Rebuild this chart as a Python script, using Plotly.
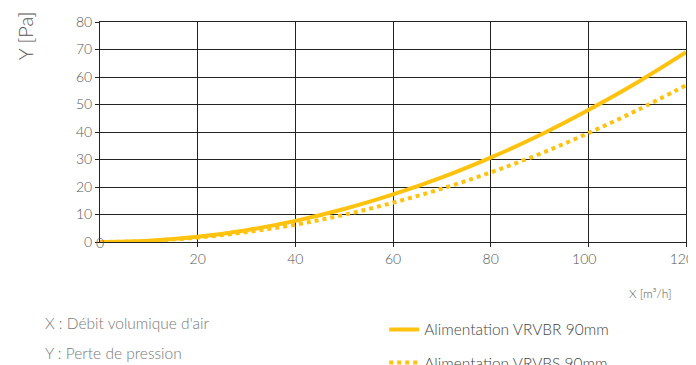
import plotly.graph_objects as go

# flow rate (m3/h) and pressure loss (Pa)
debit = [0, 10, 20, 30, 40, 50, 60, 70, 80, 90, 100, 110, 120]
vrvbr = [0, 0.5, 1.9, 4.3, 7.7, 12.0, 17.3, 23.5, 30.7, 38.8, 48.0, 58.0, 69.0]
vrvbs = [0, 0.4, 1.6, 3.6, 6.3, 9.9, 14.3, 19.4, 25.3, 32.0, 39.6, 47.9, 57.0]

x_ticks = [20, 40, 60, 80, 100, 120]
pad = "<span style='color:rgba(0,0,0,0)'>0</span>"
x_labels = ["20", "40", "60", "80", "100" + pad, "120" + pad]
y_ticks = [0, 10, 20, 30, 40, 50, 60, 70, 80]

jaune = "#FFC20E"
gris = "#555555"
police = "Lato"

fig = go.Figure()

fig.add_trace(go.Scatter(x=debit, y=vrvbr, mode="lines", line_shape="spline",
                         line=dict(color=jaune, width=4), legendgroup="a",
                         name="Alimentation VRVBR 90mm"))
fig.add_trace(go.Scatter(x=debit, y=vrvbs, mode="lines", line_shape="spline",
                         line=dict(color=jaune, width=4, dash="dot"), legendgroup="b",
                         name="Alimentation VRVBS 90mm"))

axe = dict(showgrid=True, gridcolor="#222222", gridwidth=1,
           showline=True, linecolor="#222222", linewidth=1, mirror=True,
           zeroline=False, ticks="outside", ticklen=4, tickcolor="#222222",
           tickfont=dict(family=police, size=14, color=gris, weight=300))

fig.update_layout(
    width=696, height=365,
    margin=dict(l=92, r=18, t=14, b=131, autoexpand=False),
    paper_bgcolor="white", plot_bgcolor="white",
    font=dict(family=police, color=gris),
    xaxis=dict(range=[0, 120], tickvals=x_ticks, ticktext=x_labels, **axe),
    yaxis=dict(range=[0, 80], tickvals=y_ticks, **axe),
    showlegend=True,
    legend=dict(x=0.485, y=-0.322, xanchor="left", yanchor="top",
                itemwidth=30, tracegroupgap=10, traceorder="grouped",
                font=dict(family=police, size=15.5, color="#444444", weight=300),
                bgcolor="rgba(0,0,0,0)"),
    annotations=[
        dict(text="0", x=0, y=0, xref="x", yref="y", showarrow=False,
             xanchor="center", yanchor="middle",
             font=dict(family=police, size=14, color=gris, weight=300)),
        dict(text="Y [Pa]", x=-0.128, y=0.94, xref="paper", yref="paper",
             showarrow=False, textangle=-90, xanchor="center", yanchor="middle",
             font=dict(family=police, size=20, color=gris, weight=300)),
        dict(text="X [m³/h]", x=0.94, y=-0.232, xref="paper", yref="paper",
             showarrow=False, xanchor="center", yanchor="middle",
             font=dict(family=police, size=12, color=gris, weight=300)),
        dict(text="X : Débit volumique d'air", x=-0.098, y=-0.368,
             xref="paper", yref="paper", showarrow=False,
             xanchor="left", yanchor="middle",
             font=dict(family=police, size=15.5, color="#777777", weight=300)),
        dict(text="Y : Perte de pression", x=-0.098, y=-0.505,
             xref="paper", yref="paper", showarrow=False,
             xanchor="left", yanchor="middle",
             font=dict(family=police, size=15.5, color="#777777", weight=300)),
    ],
)

fig.write_html("out.html")
